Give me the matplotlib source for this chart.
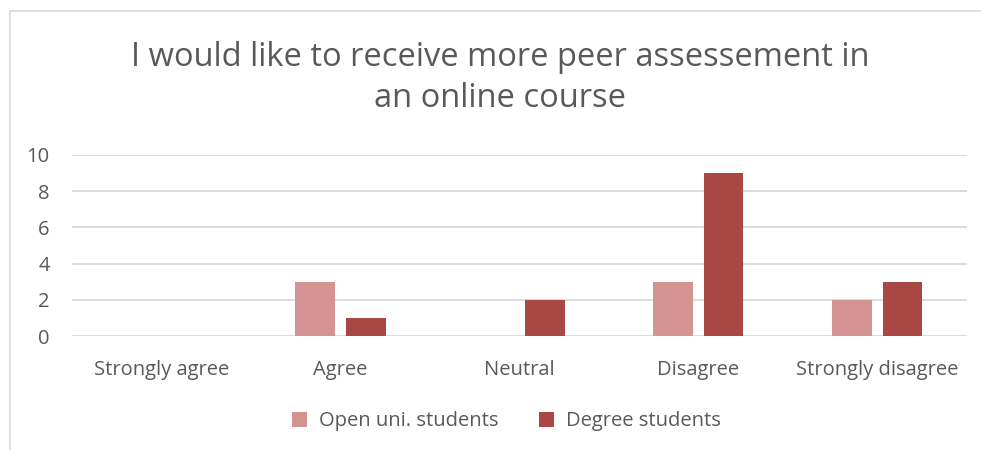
import matplotlib.pyplot as plt
import numpy as np

categories = ["Strongly agree", "Agree", "Neutral", "Disagree", "Strongly disagree"]
open_uni = [0, 3, 0, 3, 2]
degree = [0, 1, 2, 9, 3]
series_names = ["Open uni. students", "Degree students"]

text_col = "#595959"
grid_col = "#D9D9D9"
pink = "#D39392"
red = "#A94745"

plt.rcParams['font.family'] = ['Open Sans', 'DejaVu Sans']

fig = plt.figure(figsize=(9.81, 4.5), dpi=100)
ax = fig.add_axes([0.0734, 0.2533, 0.9123, 0.4023])

x = np.arange(len(categories))
w = 0.223
ax.bar(x - 0.14, open_uni, w, color=pink, label=series_names[0], zorder=3)
ax.bar(x + 0.14, degree, w, color=red, label=series_names[1], zorder=3)

ax.set_xlim(-0.5, len(categories) - 0.5)
ax.set_ylim(0, 10)
ax.set_yticks(range(0, 11, 2))
ax.set_xticks(x)
ax.set_xticklabels(categories)
ax.grid(axis='y', color=grid_col, linewidth=1.3, zorder=0)
for s in ax.spines.values():
    s.set_visible(False)
ax.tick_params(length=0, colors=text_col, labelsize=14.5)
ax.tick_params(axis='x', pad=17)
ax.tick_params(axis='y', pad=16)

fig.text(0.51, 0.826, "I would like to receive more peer assessement in\nan online course",
         ha='center', va='center', fontsize=23.5, color=text_col, linespacing=1.32)

fig.legend(loc='center', bbox_to_anchor=(0.516, 0.064), ncol=2, frameon=False,
           fontsize=14.5, labelcolor=text_col, handlelength=0.75, handleheight=0.75,
           columnspacing=2.0, handletextpad=0.6)

# outer chart border
fig.add_artist(plt.Line2D([0.0105, 0.0105], [0, 0.975], color=grid_col, lw=1.2))
fig.add_artist(plt.Line2D([0.0105, 1], [0.975, 0.975], color=grid_col, lw=1.2))

fig.savefig("out.png", dpi=100)
